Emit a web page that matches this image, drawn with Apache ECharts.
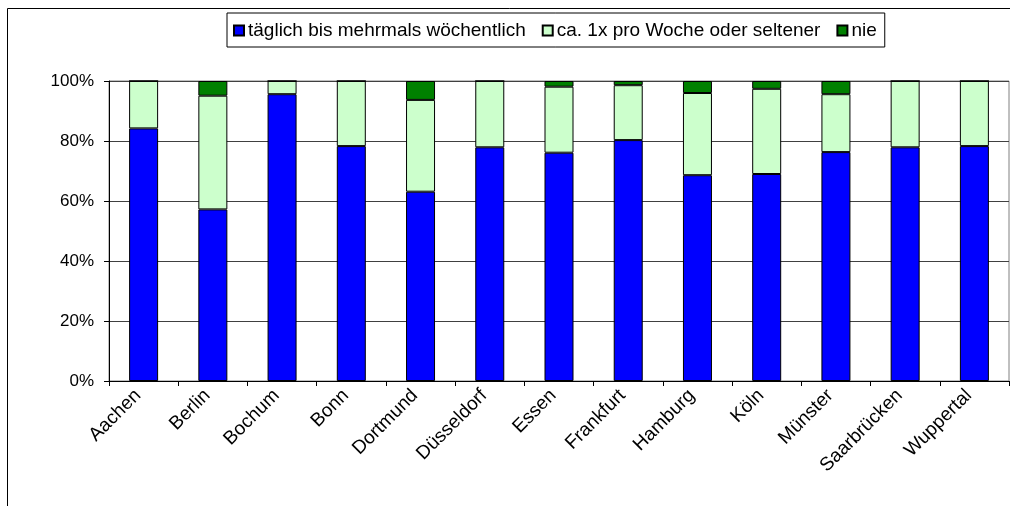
<!DOCTYPE html>
<html><head><meta charset="utf-8">
<script src="https://cdn.jsdelivr.net/npm/echarts@6/dist/echarts.min.js"></script>
<style>html,body{margin:0;padding:0;background:#fff}#c{width:1010px;height:506px}</style>
</head><body><div id="c"></div>
<script>
const categories = ["Aachen","Berlin","Bochum","Bonn","Dortmund","Düsseldorf","Essen","Frankfurt","Hamburg","Köln","Münster","Saarbrücken","Wuppertal"];
const seriesNames = ["täglich bis mehrmals wöchentlich","ca. 1x pro Woche oder seltener","nie"];
const daily = [84.2,57.2,95.6,78.3,63.1,77.9,76.1,80.3,68.6,69.0,76.3,77.9,78.3];
const weekly = [15.8,37.9,4.4,21.7,30.6,22.1,22.0,18.3,27.4,28.4,19.3,22.1,21.7];
const never = [0,4.9,0,0,6.3,0,1.9,1.4,4.0,2.6,4.4,0,0];
const yTicks = [0,20,40,60,80,100];
const colors = ["#0000FF","#CCFFCC","#008000"];

const chart = echarts.init(document.getElementById('c'), null, {renderer:'canvas'});
const font = "'Liberation Sans', Arial, sans-serif";
const mk = (name, data, i) => ({
  name, type:'bar', stack:'s', data, barWidth:29,
  itemStyle:{color:colors[i], borderColor:'#000', borderWidth:1},
  emphasis:{disabled:true}
});
chart.setOption({
  animation:false,
  textStyle:{fontFamily:font},
  graphic:[{type:'rect', shape:{x:7.5,y:8.5,width:1010,height:510}, style:{fill:'none', stroke:'#000', lineWidth:1}, silent:true}],
  legend:{
    data:seriesNames, top:13, left:227,
    orient:'horizontal', icon:'rect', itemWidth:10, itemHeight:10, itemGap:16,
    padding:[8,8,7,6], borderColor:'#000', borderWidth:1,
    textStyle:{fontFamily:font, fontSize:19, color:'#000', padding:[0,0,0,-1]}
  },
  grid:{left:109, right:1, top:81, bottom:125, show:true, borderColor:'#808080', borderWidth:1, containLabel:false},
  xAxis:{
    type:'category', data:categories,
    axisLine:{lineStyle:{color:'#000'}},
    axisTick:{show:true, length:5, lineStyle:{color:'#000'}},
    axisLabel:{rotate:45, fontFamily:font, fontSize:19, color:'#000', margin:6, interval:0, padding:[0,8,0,0]}
  },
  yAxis:{
    type:'value', min:0, max:100, interval:20,
    axisLine:{show:true, lineStyle:{color:'#000'}},
    axisTick:{show:true, length:5, lineStyle:{color:'#000'}},
    axisLabel:{fontFamily:font, fontSize:17, color:'#000', margin:15,
      formatter:v => yTicks.includes(v) ? v + '%' : ''},
    splitLine:{lineStyle:{color:'#404040', width:1}}
  },
  series:[mk(seriesNames[0], daily, 0), mk(seriesNames[1], weekly, 1), mk(seriesNames[2], never, 2)]
});
</script></body></html>
